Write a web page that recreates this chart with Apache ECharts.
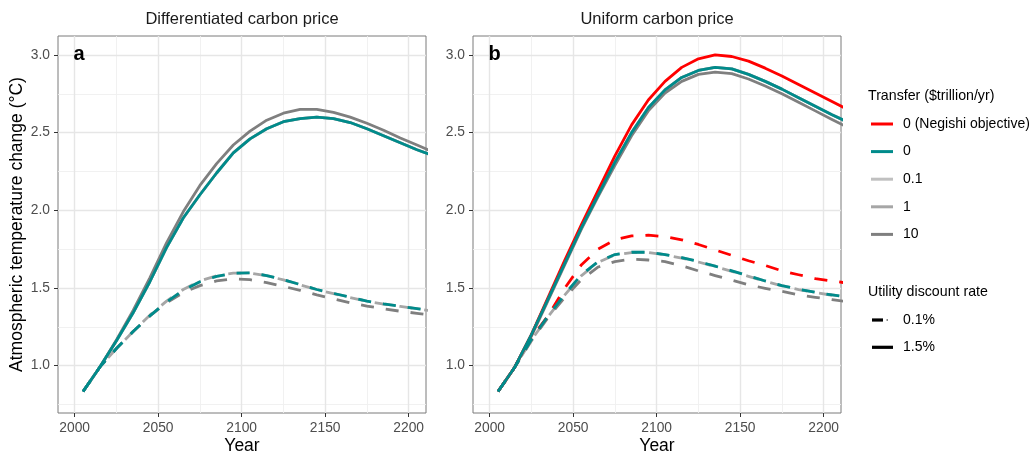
<!DOCTYPE html>
<html>
<head>
<meta charset="utf-8">
<script src="https://cdn.jsdelivr.net/npm/echarts@6/dist/echarts.min.js"></script>
<style>
html,body{margin:0;padding:0;background:#fff;}
#chart{width:1031px;height:453px;}
</style>
</head>
<body>
<div id="chart"></div>
<script>
// ---- data ----
const years = [2005,2015,2025,2035,2045,2055,2065,2075,2085,2095,2105,2115,2125,2135,2145,2155,2165,2175,2185,2195,2205,2215];

// Panel a: differentiated carbon price
const aTeal15   = [0.833,0.99,1.16,1.34,1.54,1.76,1.95,2.10,2.24,2.37,2.46,2.525,2.57,2.59,2.60,2.59,2.565,2.525,2.48,2.435,2.39,2.35];
const aG01_15   = [0.833,0.99,1.16,1.34,1.54,1.76,1.95,2.10,2.24,2.37,2.46,2.525,2.57,2.59,2.60,2.59,2.565,2.525,2.48,2.435,2.39,2.35];
const aG1_15    = [0.833,0.99,1.16,1.34,1.54,1.76,1.95,2.10,2.24,2.37,2.46,2.525,2.57,2.59,2.60,2.59,2.565,2.525,2.48,2.435,2.39,2.35];
const aG10_15   = [0.833,0.99,1.165,1.355,1.565,1.79,1.99,2.16,2.30,2.42,2.51,2.58,2.625,2.65,2.65,2.63,2.60,2.56,2.515,2.465,2.42,2.375];
const aTeal01   = [0.833,0.99,1.11,1.22,1.32,1.41,1.485,1.54,1.575,1.595,1.597,1.58,1.553,1.522,1.49,1.465,1.44,1.415,1.397,1.382,1.367,1.352];
const aG01_01   = [0.833,0.99,1.11,1.22,1.32,1.41,1.485,1.54,1.575,1.595,1.597,1.58,1.553,1.522,1.49,1.465,1.44,1.415,1.397,1.382,1.367,1.352];
const aG1_01    = [0.833,0.99,1.11,1.22,1.325,1.415,1.49,1.545,1.578,1.595,1.595,1.578,1.552,1.52,1.49,1.463,1.438,1.414,1.396,1.381,1.366,1.351];
const aG10_01   = [0.833,0.99,1.11,1.22,1.32,1.405,1.47,1.515,1.545,1.558,1.553,1.535,1.51,1.485,1.455,1.43,1.405,1.383,1.366,1.35,1.337,1.322];

// Panel b: uniform carbon price
const bRed15    = [0.833,0.99,1.20,1.44,1.68,1.91,2.13,2.35,2.55,2.71,2.83,2.92,2.975,3.0,2.99,2.96,2.915,2.865,2.81,2.755,2.70,2.645];
const bTeal15   = [0.833,0.99,1.20,1.43,1.66,1.89,2.10,2.31,2.50,2.66,2.775,2.855,2.90,2.92,2.91,2.875,2.83,2.78,2.725,2.67,2.615,2.565];
const bG01_15   = [0.833,0.99,1.20,1.43,1.66,1.89,2.10,2.31,2.50,2.66,2.775,2.855,2.90,2.92,2.91,2.875,2.83,2.78,2.725,2.67,2.615,2.565];
const bG1_15    = [0.833,0.99,1.20,1.43,1.66,1.89,2.10,2.31,2.50,2.66,2.775,2.855,2.90,2.92,2.91,2.875,2.83,2.78,2.725,2.67,2.615,2.565];
const bG10_15   = [0.833,0.99,1.19,1.42,1.65,1.88,2.09,2.29,2.48,2.64,2.755,2.83,2.875,2.89,2.88,2.845,2.80,2.75,2.695,2.64,2.585,2.53];
const bRed01    = [0.833,0.99,1.18,1.32,1.50,1.65,1.75,1.81,1.835,1.84,1.83,1.81,1.78,1.745,1.71,1.675,1.645,1.61,1.585,1.56,1.545,1.53];
const bTeal01   = [0.833,0.99,1.17,1.32,1.46,1.585,1.67,1.715,1.73,1.73,1.715,1.695,1.67,1.64,1.61,1.578,1.545,1.515,1.492,1.472,1.455,1.44];
const bG01_01   = [0.833,0.99,1.17,1.32,1.46,1.585,1.67,1.715,1.73,1.73,1.715,1.695,1.67,1.64,1.61,1.578,1.545,1.515,1.492,1.472,1.455,1.44];
const bG1_01    = [0.833,0.99,1.165,1.315,1.455,1.58,1.665,1.712,1.728,1.728,1.713,1.692,1.667,1.637,1.607,1.575,1.543,1.513,1.49,1.47,1.453,1.438];
const bG10_01   = [0.833,0.99,1.16,1.31,1.44,1.555,1.635,1.67,1.685,1.68,1.67,1.643,1.61,1.58,1.55,1.52,1.498,1.478,1.455,1.44,1.425,1.41];

// ticks / grid breaks
const xMajor = [2000,2050,2100,2150,2200];
const xMinor = [2025,2075,2125,2175];
const yMajor = [1.0,1.5,2.0,2.5,3.0];
const yMinor = [0.75,1.25,1.75,2.25,2.75];

const panelTitles = ['Differentiated carbon price','Uniform carbon price'];
const panelLetters = ['a','b'];
const legendTitle1 = 'Transfer ($trillion/yr)';
const transferLabels = ['0 (Negishi objective)','0','0.1','1','10'];
const legendTitle2 = 'Utility discount rate';
const discountLabels = ['0.1%','1.5%'];

// ---- styling ----
const FONT = 'Liberation Sans, Arial, sans-serif';
const C = {red:'#FF0000', teal:'#008B8B', g01:'#C0C0C0', g1:'#A6A6A6', g10:'#7F7F7F'};
const LW = 2.8;
const DASH = [13,12];

const grids = [
  {left:58, top:36, width:368, height:377},
  {left:473, top:36, width:368, height:377}
];

function pairs(ys){ return years.map((y,i)=>[y, ys[i]]); }

function gridMarkLine(){
  const d = [];
  xMinor.forEach(v=>d.push({xAxis:v, lineStyle:{color:'#EFEFEF', width:0.9, type:'solid'}}));
  yMinor.forEach(v=>d.push({yAxis:v, lineStyle:{color:'#EFEFEF', width:0.9, type:'solid'}}));
  xMajor.forEach(v=>d.push({xAxis:v, lineStyle:{color:'#E6E6E6', width:1.4, type:'solid'}}));
  yMajor.forEach(v=>d.push({yAxis:v, lineStyle:{color:'#E6E6E6', width:1.4, type:'solid'}}));
  return {silent:true, symbol:['none','none'], label:{show:false}, z:1, animation:false, data:d, emphasis:{disabled:true}};
}

function line(idx, data, color, dashed, z, offset){
  const ls = {color:color, width:LW, cap:'butt', join:'round'};
  if (dashed){ ls.type = DASH; ls.dashOffset = offset || 0; }
  return {type:'line', xAxisIndex:idx, yAxisIndex:idx, data:pairs(data), showSymbol:false, symbol:'none',
          lineStyle:ls, itemStyle:{color:color}, z:z, silent:true, animation:false, clip:true};
}

const series = [];
// panel a
const sA0 = line(0, aG01_15, C.g01, false, 2);
sA0.markLine = gridMarkLine();
series.push(sA0);
series.push(line(0, aG1_15, C.g1, false, 2));
series.push(line(0, aG10_15, C.g10, false, 3));
series.push(line(0, aTeal15, C.teal, false, 4));
series.push(line(0, aG01_01, C.g01, true, 2, 0));
series.push(line(0, aG1_01, C.g1, true, 2, 8));
series.push(line(0, aG10_01, C.g10, true, 3, 0));
series.push(line(0, aTeal01, C.teal, true, 4, 0));
// panel b
const sB0 = line(1, bG01_15, C.g01, false, 2);
sB0.markLine = gridMarkLine();
series.push(sB0);
series.push(line(1, bG1_15, C.g1, false, 2));
series.push(line(1, bG10_15, C.g10, false, 3));
series.push(line(1, bRed15, C.red, false, 3));
series.push(line(1, bTeal15, C.teal, false, 4));
series.push(line(1, bG01_01, C.g01, true, 2, 0));
series.push(line(1, bG1_01, C.g1, true, 2, 8));
series.push(line(1, bG10_01, C.g10, true, 3, 0));
series.push(line(1, bRed01, C.red, true, 3, 0));
series.push(line(1, bTeal01, C.teal, true, 4, 0));

function xAxis(idx){
  return {type:'value', gridIndex:idx, min:1990, max:2210.4,
    axisLine:{show:false}, splitLine:{show:false},
    axisTick:{show:true, customValues:xMajor, length:4, lineStyle:{color:'#333333', width:1}},
    axisLabel:{customValues:xMajor, color:'#4D4D4D', fontSize:13.8, fontFamily:FONT, margin:8, formatter:v=>String(v)}};
}
function yAxis(idx){
  return {type:'value', gridIndex:idx, min:0.695, max:3.122,
    axisLine:{show:false}, splitLine:{show:false},
    axisTick:{show:true, customValues:yMajor, length:4, lineStyle:{color:'#333333', width:1}},
    axisLabel:{customValues:yMajor, color:'#4D4D4D', fontSize:13.8, fontFamily:FONT, margin:8, formatter:v=>v.toFixed(1)}};
}

const graphic = [];
function txt(x,y,s,opt){
  graphic.push(Object.assign({type:'text', x:x, y:y, silent:true, z:100,
    style:Object.assign({text:s, fontFamily:FONT, fontSize:14, fill:'#000', align:'left', verticalAlign:'middle'}, opt||{})}));
}
const centers = [grids[0].left+grids[0].width/2, grids[1].left+grids[1].width/2];
txt(centers[0], 19, panelTitles[0], {fontSize:16.5, align:'center', fill:'#1A1A1A'});
txt(centers[1], 19, panelTitles[1], {fontSize:16.5, align:'center', fill:'#1A1A1A'});
txt(73.5, 54, panelLetters[0], {fontSize:20, fontWeight:'bold'});
txt(488.5, 54, panelLetters[1], {fontSize:20, fontWeight:'bold'});
txt(centers[0], 446, 'Year', {fontSize:17.5, align:'center'});
txt(centers[1], 446, 'Year', {fontSize:17.5, align:'center'});
graphic.push({type:'text', x:17.5, y:224.5, rotation:Math.PI/2, silent:true, z:100,
  style:{text:'Atmospheric temperature change (°C)', fontFamily:FONT, fontSize:17.5, fill:'#000', align:'center', verticalAlign:'middle'}});

// legend
txt(868, 96.5, legendTitle1, {fontSize:14.2});
const keyColors = [C.red, C.teal, C.g01, C.g1, C.g10];
transferLabels.forEach((lab,i)=>{
  const y = 124 + 27.6*i;
  graphic.push({type:'line', silent:true, z:100, shape:{x1:871, y1:y, x2:893, y2:y}, style:{stroke:keyColors[i], lineWidth:3}});
  txt(903, y, lab, {fontSize:14});
});
txt(868, 292.3, legendTitle2, {fontSize:14.2});
graphic.push({type:'line', silent:true, z:100, shape:{x1:872, y1:320, x2:883, y2:320}, style:{stroke:'#000', lineWidth:3.2}});
graphic.push({type:'line', silent:true, z:100, shape:{x1:886.5, y1:320, x2:888, y2:320}, style:{stroke:'#888', lineWidth:2}});
txt(903, 320, discountLabels[0], {fontSize:14});
graphic.push({type:'line', silent:true, z:100, shape:{x1:872, y1:347.3, x2:893, y2:347.3}, style:{stroke:'#000', lineWidth:3.2}});
txt(903, 347.3, discountLabels[1], {fontSize:14});

const chart = echarts.init(document.getElementById('chart'), null, {renderer:'canvas'});
chart.setOption({
  animation:false,
  backgroundColor:'#fff',
  grid: grids.map(g=>Object.assign({show:true, borderColor:'#7a7a7a', borderWidth:1, backgroundColor:'transparent', containLabel:false}, g)),
  xAxis:[xAxis(0), xAxis(1)],
  yAxis:[yAxis(0), yAxis(1)],
  series:series,
  graphic:graphic
});
</script>
</body>
</html>
